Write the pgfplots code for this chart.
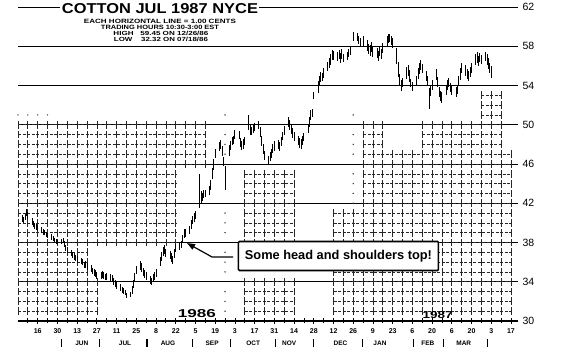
\documentclass[border=0pt]{standalone}
\usepackage{pgfplots}
\pgfplotsset{compat=1.18}
\usepackage{pgfplotstable}
\usepackage{graphicx}
\usepackage{fontspec}
\setmainfont{Liberation Sans}
\usetikzlibrary{arrows.meta}

\pgfplotstableread{
d h l
-11 40.8 40.1
-10 40.6 40.0
-9 40.9 40.3
-8 41.4 40.7
-7 41.1 40.4
-4 40.5 39.8
-3 40.2 39.6
-2 40.0 39.4
-1 39.9 39.3
0 39.8 39.2
3 39.6 39.0
4 39.4 38.8
5 39.3 38.8
6 39.1 38.6
7 39.0 38.5
10 38.9 38.3
11 38.7 38.2
12 38.5 37.9
13 38.4 37.8
14 38.3 37.8
17 38.4 37.8
18 38.5 37.9
19 38.2 37.5
20 37.7 37.1
21 37.5 36.9
24 37.2 36.6
25 37.0 36.4
26 36.9 36.2
27 36.7 36.1
28 36.6 35.9
31 36.4 35.8
32 36.3 35.7
33 36.0 35.4
34 36.1 35.4
35 35.9 35.2
38 35.7 35.0
39 35.4 34.8
40 35.3 34.6
41 35.2 34.5
42 35.0 34.3
45 35.0 34.3
46 35.1 34.4
47 35.0 34.3
48 34.8 34.2
49 34.9 34.2
52 34.8 34.1
53 34.7 34.0
54 34.4 33.7
55 34.2 33.5
56 34.0 33.3
59 33.8 33.1
60 33.5 32.9
61 33.4 32.8
62 33.2 32.6
63 32.9 32.32
66 33.0 32.4
67 33.6 32.8
68 34.2 33.4
69 34.9 34.0
70 35.6 34.8
73 36.1 35.2
74 35.9 35.0
75 35.4 34.6
76 35.2 34.4
77 35.0 34.2
80 34.6 33.8
81 34.4 33.7
82 34.8 34.0
83 35.0 34.2
84 35.3 34.5
87 36.5 35.6
88 37.0 36.1
89 37.5 36.6
90 37.7 36.8
91 37.3 36.5
94 37.1 36.3
95 36.9 36.0
96 36.6 35.8
97 37.3 36.4
98 37.8 37.0
101 38.0 37.2
102 38.2 37.4
103 38.8 37.9
104 39.4 38.5
105 39.4 38.6
108 39.7 38.9
109 40.3 39.4
110 40.7 39.9
111 41.0 40.1
112 41.2 40.4
115 45.0 41.5
116 43.2 42.0
117 43.0 42.2
118 43.4 42.5
119 43.3 42.6
122 43.8 42.8
123 44.4 43.3
124 45.6 44.5
125 46.5 45.4
126 47.5 46.6
129 48.2 47.3
130 48.4 47.5
131 47.8 46.8
132 46.7 45.8
133 45.8 43.3
136 47.9 46.8
137 48.3 47.4
138 48.8 47.9
139 48.9 48.0
140 49.5 48.5
143 49.4 48.5
144 48.7 47.7
145 48.3 47.4
146 48.5 47.5
147 48.8 47.9
150 51.0 49.5
151 50.0 49.0
152 49.8 49.0
153 50.0 49.2
154 50.2 49.4
157 50.4 49.6
158 49.8 48.8
159 48.9 47.8
160 48.0 47.0
161 47.3 46.4
164 46.8 45.9
165 47.2 46.3
166 47.5 46.6
167 48.0 47.1
168 48.3 47.3
171 48.4 47.5
172 48.2 47.3
173 48.8 47.8
174 49.3 48.4
175 49.9 49.0
178 50.8 49.8
179 50.5 49.5
180 50.1 49.1
181 49.7 48.7
182 49.3 48.3
185 48.9 47.9
186 48.6 47.6
187 48.5 47.5
188 48.9 47.9
189 49.2 48.3
192 50.1 49.2
193 50.8 49.8
194 51.5 50.5
195 51.6 50.8
196 53.3 52.6
199 54.5 53.2
200 55.0 54.0
201 55.4 54.4
202 55.3 54.5
203 55.8 54.8
206 56.4 55.5
207 56.8 55.8
208 57.2 56.1
209 57.6 56.6
210 57.5 56.6
213 57.4 56.5
214 57.6 56.7
215 57.3 56.3
216 57.7 56.7
217 57.2 56.4
220 57.4 56.6
221 57.7 56.9
222 58.0 57.1
224 59.45 58.5
227 59.3 58.5
228 59.0 58.2
229 58.8 57.9
231 59.0 58.0
234 58.6 57.5
235 58.2 57.2
236 58.1 57.0
237 58.4 57.4
238 57.9 56.9
241 57.8 56.8
242 57.5 56.5
243 58.0 57.0
244 57.7 56.7
245 58.3 57.3
248 59.0 58.0
249 59.2 58.3
250 59.2 58.4
251 59.0 58.1
252 58.8 57.8
255 57.8 56.2
256 56.4 54.9
257 55.2 54.0
258 54.6 53.4
259 54.8 53.8
262 55.9 54.7
263 56.1 55.0
264 55.6 54.4
265 54.7 53.8
266 54.4 53.4
269 55.0 54.0
270 55.8 54.7
271 56.3 55.2
272 56.6 55.6
273 56.2 55.3
276 55.5 54.5
277 55.0 54.1
278 53.7 51.6
279 54.1 52.9
280 54.6 53.5
283 55.7 54.6
284 54.9 53.8
285 53.8 52.8
286 53.4 52.4
287 53.3 52.2
290 54.0 53.0
291 54.6 53.5
292 54.8 53.8
293 54.3 53.3
294 54.1 53.0
297 53.8 52.8
298 54.1 53.1
299 55.0 53.9
300 55.8 54.6
301 56.3 55.3
304 56.1 55.0
305 55.7 54.7
306 55.5 54.5
307 55.9 54.9
308 56.3 55.3
311 57.2 56.1
312 57.4 56.3
313 57.0 56.0
314 57.3 56.4
315 57.1 56.2
318 57.4 56.5
319 57.2 56.1
320 56.8 55.7
321 56.3 55.3
322 56.0 54.8
}\prices

\tikzset{
  gridline/.style={black!85, line width=0.6pt, dash pattern=on 3pt off 1.5pt},
  gridtick/.style={black!85, line width=0.75pt},
}

\begin{document}
\begin{tikzpicture}
\useasboundingbox (-18pt,-34pt) rectangle (543pt,321pt);
\begin{axis}[
  at={(0,0)}, anchor=south west,
  width=500pt, height=314pt, scale only axis,
  xmin=-14, xmax=341, ymin=30, ymax=62,
  clip=false,
  axis x line*=bottom, axis y line*=right,
  x axis line style={-, line width=1.2pt},
  y axis line style={draw=none},
  ytick={30,34,...,62},
  ymajorgrids, major grid style={black, line width=0.9pt},
  ytick style={draw=none},
  /pgf/number format/assume math mode=true,
  yticklabel style={font=\fontsize{10.5}{10.5}\selectfont, xshift=1pt},
  xtick={0,14,...,336},
  xticklabels={16,30,13,27,11,25,8,22,5,19,3,17,31,14,28,12,26,9,23,6,20,6,20,3,17},
  minor xtick={-7,7,21,35,49,63,77,91,105,119,133,147,161,175,189,203,217,231,245,259,273,287,301,315,329},
  xtick align=center, major tick length=6pt, minor tick length=5pt,
  xtick style={black, line width=0.8pt},
  xticklabel style={font=\fontsize{7}{7}\selectfont\bfseries, yshift=-1pt},
]
\pgfplotsextra{
\foreach \lv/\a/\b in {
  46/-14/119, 47/-14/119, 48/-14/119, 49/-14/119, 50/-14/119,
  42/-14/98, 43/-14/98, 44/-14/98, 45/-14/98,
  38/-14/98, 39/-14/98, 40/-14/98, 41/-14/98,
  35/-14/35, 36/-14/35, 37/-14/35,
  31/-14/42, 32/-14/42, 33/-14/42, 34/-14/42,
  31/147/182, 32/147/182, 33/147/182, 34/147/182, 38/147/182,
  39/147/182, 40/147/182, 41/147/182, 42/147/182, 43/147/182, 44/147/182, 45/147/182,
  31/210/336, 32/210/336, 33/210/336, 34/210/336, 35/210/336, 36/210/336, 37/210/336,
  38/210/336, 39/210/336, 40/210/336, 41/210/336,
  42/231/336, 43/231/336, 44/231/336, 45/231/336, 46/231/336, 47/231/336,
  48/231/245, 49/231/245, 50/231/245,
  48/273/329, 49/273/329, 50/273/329,
  51/315/329, 52/315/329, 53/315/329}{
  \draw[gridline] (axis cs:\a,\lv) -- (axis cs:\b,\lv);
  \pgfmathtruncatemacro\an{\a+7}
  \pgfmathsetmacro\lo{\lv-0.4}
  \pgfmathsetmacro\hi{\lv+0.4}
  \foreach \x in {\a,\an,...,\b}{
    \draw[gridtick] (axis cs:\x,\lo) -- (axis cs:\x,\hi);
  }
}
\foreach \lv in {31,32,33,35,36,37,39,40,41,47,48,49,51}{
  \fill[black!80] (axis cs:133,\lv) circle (0.8pt);
}
\foreach \lv in {35,39,40,41,42,43,44,45,47,48,49,51}{
  \fill[black!80] (axis cs:224,\lv) circle (0.8pt);
}
\foreach \x in {-14,-7,0,7}{
  \fill[black!80] (axis cs:\x,51) circle (0.7pt);
}
\foreach \m/\x in {JUN/31.3, JUL/62, AUG/92.5, SEP/123.8, OCT/153, NOV/178.6, DEC/215, JAN/243, FEB/277, MAR/302.5}{
  \node[font=\fontsize{6.5}{6.5}\selectfont\bfseries, inner sep=0pt] at ([yshift=-22pt]axis cs:\x,30) {\m};
}
\foreach \x in {17,44,77.6,110,136.7,168.7,196,230.6,267,288,319.6}{
  \draw[line width=1.1pt] ([yshift=-18pt]axis cs:\x,30) -- ([yshift=-26pt]axis cs:\x,30);
}
}

\addplot[draw=none, mark=none,
  error bars/.cd, y dir=both, y explicit,
  error bar style={draw=black, line width=1pt}, error mark=none]
  table[x=d, y expr={(\thisrow{h}+\thisrow{l})/2}, y error expr={(\thisrow{h}-\thisrow{l})/2}] {\prices};

% title block
\node[fill=white, inner sep=1.5pt] at (axis cs:86.8,61.8) {\resizebox{196pt}{10pt}{\bfseries COTTON JUL 1987 NYCE}};
\node[inner sep=0pt] at (axis cs:86.8,60.52) {\resizebox{152pt}{4.3pt}{\bfseries EACH HORIZONTAL LINE = 1.00 CENTS}};
\node[inner sep=0pt] at (axis cs:86.8,59.91) {\resizebox{118pt}{4.3pt}{\bfseries TRADING HOURS 10:30-3:00 EST}};
\node[inner sep=0pt] at (axis cs:87.5,59.30) {\resizebox{95pt}{4.3pt}{\bfseries HIGH \ \ 59.45 ON 12/26/86}};
\node[inner sep=0pt] at (axis cs:87.5,58.74) {\resizebox{94pt}{4.3pt}{\bfseries LOW \ \ \ 32.32 ON 07/18/86}};

% years
\node[inner sep=0pt] at (axis cs:113,30.72) {\resizebox{38pt}{8pt}{\bfseries 1986}};
\node[inner sep=0pt] at (axis cs:284,30.65) {\resizebox{30pt}{7pt}{\bfseries 1987}};

% annotation
\draw[line width=1.2pt, -{Triangle[length=8pt,width=6pt]}] (axis cs:138.8,36.52) -- (axis cs:123.8,36.52) -- (axis cs:106,37.94);
\node[draw, line width=1.6pt, fill=white, rounded corners=1pt, minimum width=200pt, minimum height=29pt, inner sep=0pt,
  font=\fontsize{12.8}{13}\selectfont\bfseries] at (axis cs:213.5,36.62) {Some head and shoulders top!};
\end{axis}
\end{tikzpicture}
\end{document}
